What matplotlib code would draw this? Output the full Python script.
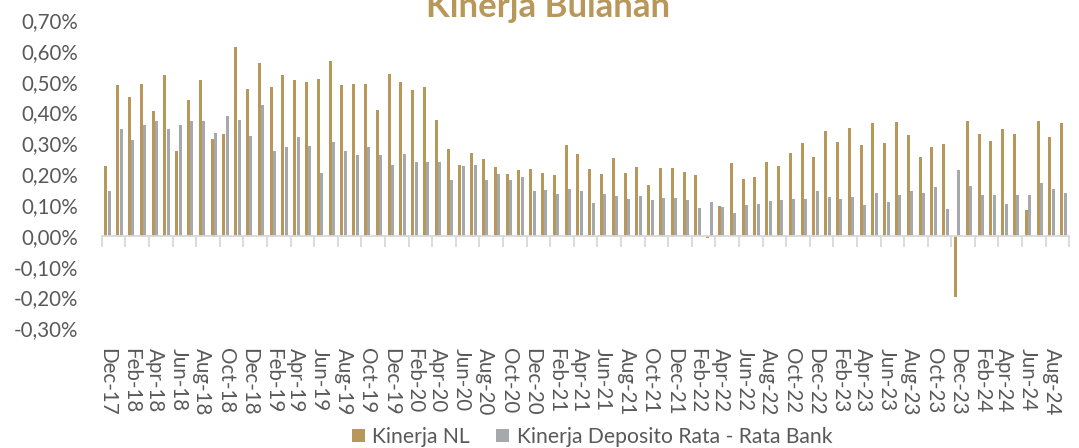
import matplotlib
matplotlib.use("Agg")
import matplotlib.pyplot as plt
from matplotlib.patches import Patch
from matplotlib.ticker import FixedLocator, FuncFormatter
import numpy as np
import pandas as pd

plt.rcParams['font.family'] = ['Lato', 'DejaVu Sans']

months = [d.strftime('%b-%y') for d in pd.date_range('2017-12-01', periods=82, freq='MS')]

kinerja_nl = [
    0.225, 0.490, 0.450, 0.492, 0.406, 0.520, 0.275, 0.442, 0.507, 0.313,
    0.330, 0.613, 0.477, 0.559, 0.483, 0.520, 0.507, 0.500, 0.510, 0.567,
    0.490, 0.493, 0.492, 0.407, 0.525, 0.498, 0.473, 0.483, 0.375, 0.281,
    0.229, 0.269, 0.249, 0.224, 0.200, 0.213, 0.217, 0.205, 0.198, 0.294,
    0.264, 0.217, 0.200, 0.253, 0.204, 0.223, 0.166, 0.221, 0.219, 0.206,
    0.196, -0.008, 0.098, 0.236, 0.185, 0.191, 0.240, 0.227, 0.270, 0.300,
    0.256, 0.339, 0.304, 0.350, 0.294, 0.365, 0.300, 0.370, 0.327, 0.256,
    0.289, 0.298, -0.198, 0.371, 0.329, 0.308, 0.347, 0.329, 0.083, 0.372,
    0.322, 0.365,
]

kinerja_deposito = [
    0.145, 0.345, 0.311, 0.359, 0.371, 0.346, 0.359, 0.372, 0.371, 0.332,
    0.387, 0.375, 0.325, 0.423, 0.275, 0.289, 0.320, 0.291, 0.203, 0.303,
    0.275, 0.262, 0.288, 0.262, 0.230, 0.264, 0.239, 0.239, 0.238, 0.181,
    0.226, 0.230, 0.182, 0.201, 0.182, 0.192, 0.144, 0.149, 0.136, 0.152,
    0.144, 0.106, 0.137, 0.129, 0.120, 0.130, 0.117, 0.123, 0.122, 0.116,
    0.091, 0.111, 0.095, 0.075, 0.101, 0.103, 0.113, 0.115, 0.118, 0.121,
    0.144, 0.126, 0.121, 0.126, 0.099, 0.138, 0.111, 0.131, 0.144, 0.140,
    0.159, 0.086, 0.213, 0.163, 0.133, 0.133, 0.103, 0.133, 0.133, 0.170,
    0.153, 0.138,
]

series_names = ['Kinerja NL', 'Kinerja Deposito Rata - Rata Bank']
title = 'Kinerja Bulanan'
y_ticks = [-0.30, -0.20, -0.10, 0.00, 0.10, 0.20, 0.30, 0.40, 0.50, 0.60, 0.70]

GOLD = '#B8975A'
GRAY = '#A6A9AC'
TEXT = '#595959'
AXIS = '#D9D9D9'

W, H = 1079, 448
fig = plt.figure(figsize=(W / 100, H / 100), dpi=100)
ax = fig.add_axes([101.7 / W, 1 - 328.3 / H, (1069.3 - 101.7) / W, (328.3 - 20) / H])

x = np.arange(len(months))
bw = 0.26
ax.bar(x - 0.142, kinerja_nl, width=bw, color=GOLD, zorder=3)
ax.bar(x + 0.142, kinerja_deposito, width=bw, color=GRAY, zorder=3)

ax.set_xlim(-0.5, len(months) - 0.5)
ax.set_ylim(y_ticks[0], y_ticks[-1])

# y axis
ax.yaxis.set_major_locator(FixedLocator(y_ticks))
ax.yaxis.set_major_formatter(FuncFormatter(lambda v, p: f"{v:.2f}%".replace('.', ',')))
ax.tick_params(axis='y', length=0, pad=17, labelsize=14.8, labelcolor=TEXT)
for s in ['left', 'right', 'top']:
    ax.spines[s].set_visible(False)

# x axis line at zero with boundary tick marks
ax.spines['bottom'].set_position(('data', 0))
ax.spines['bottom'].set_color(AXIS)
ax.spines['bottom'].set_linewidth(1.3)
ax.spines['bottom'].set_zorder(4)
ax.xaxis.set_major_locator(FixedLocator([]))
ax.xaxis.set_minor_locator(FixedLocator(np.arange(-0.5, len(months), 2)))
ax.tick_params(axis='x', which='minor', length=8, width=1.3, color=AXIS, direction='out')
ax.tick_params(axis='x', which='major', length=0, labelbottom=False)

# month labels at bottom of plot area
sec = ax.secondary_xaxis('bottom')
sec.set_xticks(x[::2])
sec.set_xticklabels(months[::2], rotation=270)
sec.tick_params(length=0, pad=14, labelsize=14.8, labelcolor=TEXT)
sec.spines['bottom'].set_visible(False)

fig.text(548 / W, 1 - 17 / H, title, ha='center', va='baseline',
         fontsize=25, fontweight='bold', color=GOLD)

handles = [Patch(facecolor=GOLD, edgecolor='none'), Patch(facecolor=GRAY, edgecolor='none')]
fig.legend(handles, series_names, loc='center', bbox_to_anchor=(592 / W, 1 - 437 / H),
           ncol=2, frameon=False, fontsize=15.2, labelcolor=TEXT,
           handlelength=0.62, handleheight=0.62, handletextpad=0.35, columnspacing=1.25,
           borderpad=0, borderaxespad=0)

fig.savefig('out.png', dpi=100)
